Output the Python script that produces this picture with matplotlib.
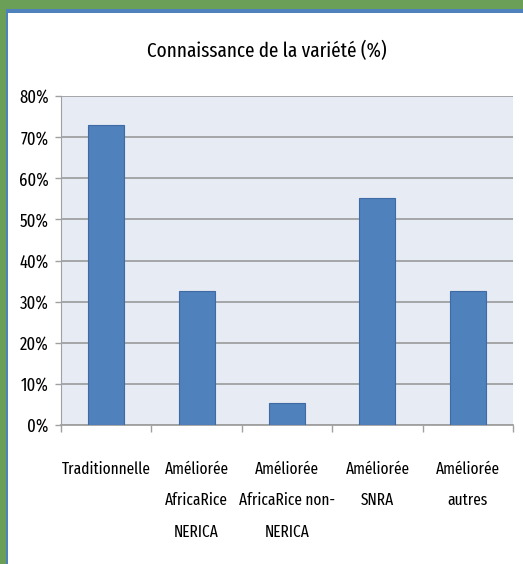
import matplotlib.pyplot as plt
import matplotlib.patches as patches
from matplotlib.ticker import FixedLocator, FuncFormatter

# data
categories = ['Traditionnelle', 'Améliorée\nAfricaRice\nNERICA', 'Améliorée\nAfricaRice non-\nNERICA',
              'Améliorée\nSNRA', 'Améliorée\nautres']
values = [73.0, 32.7, 5.4, 55.2, 32.7]
y_ticks = [0, 10, 20, 30, 40, 50, 60, 70, 80]
title = 'Connaissance de la variété (%)'

plt.rcParams['font.family'] = ['Fira Sans Extra Condensed', 'DejaVu Sans']

W, H = 523, 564
fig = plt.figure(figsize=(W / 100, H / 100), dpi=100)
fig.patch.set_facecolor('white')

# green frame + blue inner line (top and left only)
fig.patches.append(patches.Rectangle((0, 0), 1, 1, transform=fig.transFigure,
                                     facecolor='#6B9F58', edgecolor='none', zorder=-3))
fig.patches.append(patches.Rectangle((6 / W, 0), 1, 1 - 9 / H, transform=fig.transFigure,
                                     facecolor='#4F81BD', edgecolor='none', zorder=-2))
fig.patches.append(patches.Rectangle((8 / W, 0), 1, 1 - 13 / H, transform=fig.transFigure,
                                     facecolor='white', edgecolor='none', zorder=-1))

left, right, top, bottom = 61, 513, 96, 425
ax = fig.add_axes([left / W, 1 - bottom / H, (right - left) / W, (bottom - top) / H])
ax.set_facecolor('#E6EBF4')

x = list(range(len(categories)))
ax.bar(x, values, width=0.4, color='#4F81BD', edgecolor='#3E6BA3', linewidth=0.8, zorder=3)

ax.set_xlim(-0.5, len(categories) - 0.5)
ax.set_ylim(0, 80)
ax.set_yticks(y_ticks)
ax.yaxis.set_major_formatter(FuncFormatter(lambda v, p: f'{v:.0f}%'))
ax.grid(axis='y', color='#A0A0A0', linewidth=1.3, zorder=1)

ax.set_xticks(x)
ax.set_xticklabels(categories, linespacing=2.22, va='top')
ax.xaxis.set_minor_locator(FixedLocator([i - 0.5 for i in range(len(categories) + 1)]))
ax.tick_params(axis='x', which='major', length=0, pad=26, labelsize=12)
ax.tick_params(axis='x', which='minor', length=5, color='#A0A0A0', width=1)
ax.tick_params(axis='y', length=4, color='#A0A0A0', width=1, labelsize=13, pad=5)

for s in ['top', 'right']:
    ax.spines[s].set_visible(False)
ax.spines['left'].set_color('#A0A0A0')
ax.spines['bottom'].set_color('#A0A0A0')
ax.spines['bottom'].set_linewidth(1.3)

fig.text(267 / W, 1 - 51 / H, title, ha='center', va='center', fontsize=15)

fig.savefig('out.png', dpi=100)
